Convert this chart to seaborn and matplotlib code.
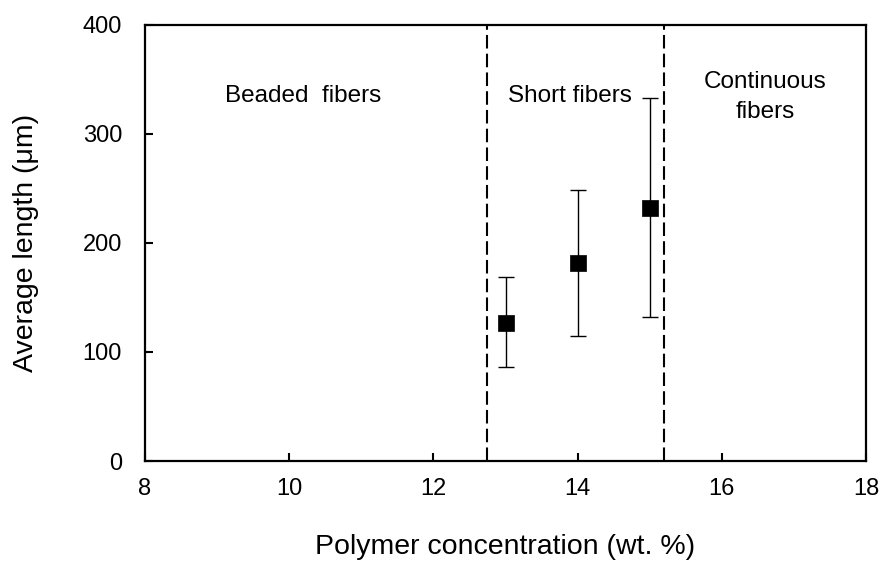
import matplotlib
matplotlib.use("Agg")
import matplotlib.pyplot as plt
import seaborn as sns
import pandas as pd

# Measured fiber lengths versus polymer concentration
concentration = [13, 14, 15]
avg_length = [127, 182, 232]
err_low = [41, 67, 100]     # distance from mean to lower whisker
err_high = [42, 67, 101]    # distance from mean to upper whisker

# Regime boundaries and labels
boundaries = [12.75, 15.2]
regime_labels = ["Beaded  fibers", "Short fibers", "Continuous\nfibers"]
regime_x = [10.2, 13.9, 16.6]
regime_y = [335, 335, 334]

x_ticks = [8, 10, 12, 14, 16, 18]
y_ticks = [0, 100, 200, 300, 400]

sns.set_theme(style="ticks")
plt.rcParams["font.family"] = ["Liberation Sans", "DejaVu Sans"]
plt.rcParams["text.color"] = "black"
plt.rcParams["axes.labelcolor"] = "black"

df = pd.DataFrame({"conc": concentration, "length": avg_length})

fig = plt.figure(figsize=(8.83, 5.62), dpi=100)
ax = fig.add_axes([145 / 883, 1 - 461 / 562, (866 - 145) / 883, (461 - 25) / 562])

ax.errorbar(df["conc"], df["length"], yerr=[err_low, err_high], fmt="none",
            ecolor="black", elinewidth=1.0, capsize=5.5, capthick=1.0, zorder=2)
sns.scatterplot(data=df, x="conc", y="length", marker="s", s=140, color="black",
                edgecolor="black", linewidth=0.5, ax=ax, zorder=3)

for b in boundaries:
    ax.axvline(b, color="black", linestyle=(0, (6.5, 2.5)), linewidth=1.5, zorder=1)

for lab, xx, yy in zip(regime_labels, regime_x, regime_y):
    ax.text(xx, yy, lab, ha="center", va="center", fontsize=17.5,
            color="black", linespacing=1.44)

ax.set_xlim(8, 18)
ax.set_ylim(0, 400)
ax.set_xticks(x_ticks)
ax.set_yticks(y_ticks)
ax.tick_params(direction="in", length=6, width=1.5, labelsize=17, colors="black")
ax.tick_params(axis="x", pad=12)
ax.tick_params(axis="y", pad=16.5)
for side in ax.spines.values():
    side.set_linewidth(1.6)
    side.set_color("black")

ax.set_xlabel("Polymer concentration (wt. %)", fontsize=20.5)
ax.set_ylabel("Average length (μm)", fontsize=20.5)
ax.xaxis.set_label_coords(0.5, -0.167)
ax.yaxis.set_label_coords(-0.147, 0.5)

fig.savefig("out.png", dpi=100)
